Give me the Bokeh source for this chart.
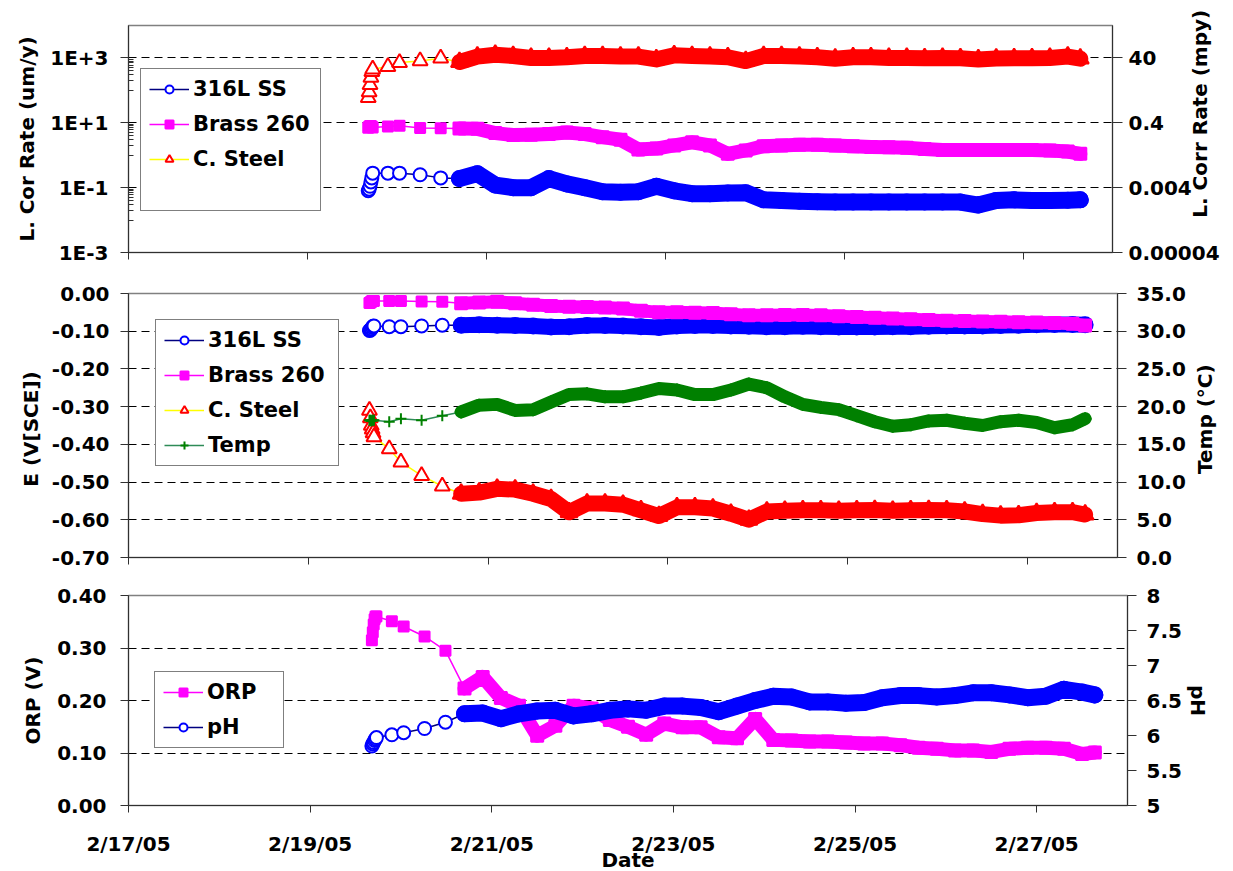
import math
import pandas as pd
from bokeh.plotting import figure
from bokeh.layouts import column
from bokeh.models import (Range1d, LinearAxis, LogAxis, LogScale, FixedTicker, Legend, LegendItem,
                          CustomJSTickFormatter, NumeralTickFormatter)
from bokeh.embed import file_html
from bokeh.resources import INLINE

# ---------------- data (days since 2/17/05 00:00) ----------------
START = pd.Timestamp("2005-02-17")
days = [2.68, 2.69, 2.70, 2.71, 2.72, 2.73,
        2.90, 3.03, 3.26, 3.49,
        3.70, 3.90, 4.10, 4.30, 4.50, 4.70, 4.90, 5.10, 5.30, 5.50, 5.70, 5.90,
        6.10, 6.30, 6.50, 6.70, 6.90, 7.10, 7.30, 7.50, 7.70, 7.90, 8.10, 8.30,
        8.50, 8.70, 8.90, 9.10, 9.30, 9.50, 9.70, 9.90, 10.10, 10.30, 10.50, 10.64]
N_DENSE = 10  # first index of the continuously logged part

# Linear corrosion rate (um/y)
cr_ss = [0.08, 0.09, 0.11, 0.15, 0.20, 0.28,
         0.28, 0.28, 0.25, 0.20,
         0.19, 0.27, 0.12, 0.10, 0.10, 0.19, 0.13, 0.10, 0.075, 0.072, 0.075, 0.11,
         0.08, 0.065, 0.065, 0.068, 0.07, 0.042, 0.040, 0.038, 0.037, 0.036, 0.036, 0.036,
         0.036, 0.036, 0.036, 0.036, 0.036, 0.029, 0.040, 0.042, 0.040, 0.040, 0.041, 0.042]
cr_brass = [7.0, 7.5, 8.0, 8.0, 7.5, 7.2,
            7.7, 8.1, 6.9, 6.8,
            6.7, 6.5, 4.8, 4.2, 4.3, 4.5, 5.0, 4.5, 3.6, 3.0, 1.5, 1.6,
            2.0, 2.5, 2.0, 1.1, 1.4, 1.9, 2.0, 2.1, 2.1, 2.0, 1.9, 1.8,
            1.75, 1.7, 1.55, 1.45, 1.45, 1.45, 1.45, 1.45, 1.45, 1.4, 1.3, 1.1]
cr_steel = [60, 90, 150, 250, 380, 450,
            540, 720, 810, 980,
            750, 1100, 1250, 1150, 1000, 1000, 1050, 1150, 1150, 1100, 1100, 900,
            1200, 1150, 1100, 1050, 800, 1150, 1150, 1100, 1050, 950, 1050, 1050,
            1000, 1000, 980, 1000, 980, 900, 960, 980, 980, 1000, 1100, 950]

# Corrosion potential E (V vs SCE) and temperature (C)
e_ss = [-0.098, -0.097, -0.094, -0.090, -0.087, -0.086,
        -0.088, -0.088, -0.086, -0.084,
        -0.084, -0.083, -0.084, -0.085, -0.086, -0.089, -0.088, -0.085, -0.085, -0.086, -0.088, -0.090,
        -0.086, -0.085, -0.085, -0.086, -0.087, -0.088, -0.088, -0.087, -0.088, -0.089, -0.089, -0.089,
        -0.088, -0.088, -0.087, -0.086, -0.086, -0.086, -0.085, -0.084, -0.083, -0.082, -0.082, -0.083]
e_brass = [-0.025, -0.024, -0.022, -0.020, -0.020, -0.020,
           -0.020, -0.020, -0.021, -0.022,
           -0.026, -0.024, -0.022, -0.026, -0.030, -0.033, -0.035, -0.036, -0.037, -0.040, -0.046, -0.050,
           -0.050, -0.051, -0.052, -0.055, -0.058, -0.058, -0.057, -0.057, -0.058, -0.060, -0.062, -0.064,
           -0.066, -0.068, -0.070, -0.072, -0.073, -0.074, -0.075, -0.076, -0.077, -0.078, -0.080, -0.085]
e_steel = [-0.31, -0.33, -0.35, -0.36, -0.37, -0.38,
           -0.412, -0.447, -0.483, -0.511,
           -0.531, -0.528, -0.518, -0.520, -0.531, -0.545, -0.580, -0.557, -0.557, -0.560, -0.575, -0.590,
           -0.567, -0.567, -0.570, -0.584, -0.600, -0.578, -0.576, -0.575, -0.575, -0.576, -0.575, -0.574,
           -0.576, -0.575, -0.574, -0.575, -0.578, -0.585, -0.589, -0.588, -0.582, -0.580, -0.580, -0.586]
temp = [18.2, 18.2, 18.1, 18.2, 18.2, 18.2,
        18.0, 18.4, 18.2, 18.8,
        19.3, 20.2, 20.3, 19.5, 19.6, 20.6, 21.6, 21.7, 21.3, 21.3, 21.8, 22.4,
        22.2, 21.6, 21.6, 22.2, 23.0, 22.5, 21.3, 20.3, 19.9, 19.6, 18.8, 18.0,
        17.4, 17.6, 18.1, 18.2, 17.8, 17.5, 18.0, 18.2, 17.9, 17.2, 17.6, 18.4]

# ORP (V) and pH
orp = [0.315, 0.33, 0.345, 0.355, 0.36, 0.36,
       0.351, 0.341, 0.322, 0.295,
       0.223, 0.245, 0.205, 0.19, 0.133, 0.152, 0.19, 0.185, 0.163, 0.15, 0.135, 0.156,
       0.149, 0.149, 0.13, 0.128, 0.165, 0.125, 0.124, 0.122, 0.122, 0.12, 0.118, 0.118,
       0.115, 0.11, 0.108, 0.105, 0.105, 0.102, 0.108, 0.11, 0.11, 0.108, 0.098, 0.101]
ph = [5.85, 5.88, 5.90, 5.93, 5.95, 5.97,
      6.01, 6.04, 6.10, 6.19,
      6.31, 6.32, 6.24, 6.31, 6.35, 6.36, 6.28, 6.31, 6.36, 6.38, 6.36, 6.42,
      6.42, 6.40, 6.34, 6.42, 6.50, 6.56, 6.55, 6.48, 6.48, 6.46, 6.47, 6.54,
      6.57, 6.57, 6.55, 6.57, 6.61, 6.61, 6.58, 6.54, 6.56, 6.66, 6.62, 6.58]

# axes
x_tick_dates = ["2005-02-17", "2005-02-19", "2005-02-21", "2005-02-23", "2005-02-25", "2005-02-27"]
x_limits = ["2005-02-17", "2005-02-28"]
cr_ticks = [1e-3, 1e-1, 1e1, 1e3]
cr_minor = [m * 10.0 ** e for e in (-2, 0, 2) for m in range(1, 10)]
mpy_labels = ["0.00004", "0.004", "0.4", "40"]
e_ticks = [-0.7, -0.6, -0.5, -0.4, -0.3, -0.2, -0.1, 0.0]
temp_ticks = [0, 5, 10, 15, 20, 25, 30, 35]
orp_ticks = [0.0, 0.1, 0.2, 0.3, 0.4]
ph_ticks = [5, 5.5, 6, 6.5, 7, 7.5, 8]

# ---------------- styling helpers ----------------
FONT = "DejaVu Sans"
x = [START + pd.Timedelta(days=d) for d in days]
x_tick_ms = [pd.Timestamp(d).value / 1e6 for d in x_tick_dates]
date_fmt = CustomJSTickFormatter(code="""
const d = new Date(tick);
return (d.getUTCMonth() + 1) + "/" + d.getUTCDate() + "/" + String(d.getUTCFullYear()).slice(2);
""")


def make_fig(fw, fh, bl, br, bt, bb, **kw):
    p = figure(frame_width=fw, frame_height=fh, min_border_left=bl, min_border_right=br,
               min_border_top=bt, min_border_bottom=bb, x_axis_type="datetime",
               x_range=Range1d(pd.Timestamp(x_limits[0]), pd.Timestamp(x_limits[1])),
               toolbar_location=None, output_backend="svg", **kw)
    p.outline_line_color = "#808080"
    p.outline_line_width = 1.5
    p.xgrid.visible = False
    p.ygrid.grid_line_color = "black"
    p.ygrid.grid_line_dash = "8 5"
    p.ygrid.grid_line_width = 1
    p.xaxis.ticker = FixedTicker(ticks=x_tick_ms)
    p.xaxis.formatter = date_fmt
    p.xaxis.major_tick_out = 7
    p.xaxis.major_tick_in = 0
    p.xaxis.minor_tick_out = 0
    p.xaxis.axis_line_color = "#303030"
    p.xaxis.major_tick_line_color = "#303030"
    p.xaxis.major_label_text_font = FONT
    p.xaxis.major_label_text_font_style = "bold"
    p.xaxis.major_label_text_font_size = "20px"
    p.xaxis.major_label_text_color = "black"
    return p


def hide_x_labels(p):
    p.xaxis.formatter = CustomJSTickFormatter(code="return '';")
    p.xaxis.major_label_text_font_size = "0px"
    p.xaxis.major_label_standoff = 0


def style_y(ax, tick_out, standoff, label, label_standoff):
    ax.major_tick_out = tick_out
    ax.major_tick_in = 0
    ax.minor_tick_out = 0
    ax.minor_tick_in = 0
    ax.axis_line_color = "#303030"
    ax.major_tick_line_color = "#303030"
    ax.major_label_standoff = standoff
    ax.major_label_text_font = FONT
    ax.major_label_text_font_style = "bold"
    ax.major_label_text_font_size = "20px"
    ax.major_label_text_color = "black"
    ax.axis_label = label
    ax.axis_label_standoff = label_standoff
    ax.axis_label_text_font = FONT
    ax.axis_label_text_font_style = "bold"
    ax.axis_label_text_font_size = "20px"
    ax.axis_label_text_color = "black"


def bottom_to_top(ax, label, pad):
    """Right-hand title reading upward; anchored at the axis start, lifted by padding."""
    try:
        ax.axis_label_align = "start"
        ax.axis_label_orientation = math.pi / 2
        ax.axis_label = "\u00a0" * pad + label
    except (AttributeError, ValueError):
        ax.axis_label = label


def series(p, y, line_color, mcolor, marker, size, band_w, fill, rng="default"):
    r_line = p.line(x, y, line_color=line_color, line_width=1.5, y_range_name=rng)
    p.line(x[N_DENSE:], y[N_DENSE:], line_color=mcolor, line_width=band_w, line_join="round",
           line_cap="round", y_range_name=rng)
    p.scatter(x[N_DENSE:], y[N_DENSE:], marker=marker, size=size + 2, line_color=mcolor,
              fill_color=mcolor, line_width=2, y_range_name=rng)
    r_m = p.scatter(x[:N_DENSE], y[:N_DENSE], marker=marker, size=size, line_color=mcolor,
                    fill_color=fill, line_width=2, y_range_name=rng)
    return [r_line, r_m]


def legend(p, items, loc, label_width):
    lg = Legend(items=items, location=loc, label_text_font=FONT, label_text_font_style="bold",
                label_text_font_size="21px", label_text_color="black", glyph_width=40,
                glyph_height=20, label_height=20, label_width=label_width, spacing=11,
                padding=8, margin=0, label_standoff=4, border_line_color="black",
                border_line_width=1, background_fill_alpha=1)
    p.add_layout(lg, "center")


# ---------------- panel 1: corrosion rate ----------------
p1 = make_fig(984, 227, 128, 113, 25, 20, y_axis_type="log", y_range=Range1d(1e-3, 1e4))
hide_x_labels(p1)
p1.yaxis.ticker = FixedTicker(ticks=cr_ticks, minor_ticks=cr_minor)
p1.yaxis.formatter = CustomJSTickFormatter(code="""
const e = Math.round(Math.log10(tick));
return "1E" + (e >= 0 ? "+" : "-") + Math.abs(e);
""")
style_y(p1.yaxis[0], 8, 12, "L. Cor Rate (um/y)", 8)
p1.yaxis.minor_tick_in = 5
p1.yaxis.minor_tick_line_color = "#303030"
p1.extra_y_ranges = {"mpy": Range1d(1e-3, 1e4)}
p1.extra_y_scales = {"mpy": LogScale()}
ax_mpy = LogAxis(y_range_name="mpy", ticker=FixedTicker(ticks=cr_ticks),
                 formatter=CustomJSTickFormatter(args=dict(tvals=cr_ticks, labs=mpy_labels), code="""
const i = tvals.findIndex(t => Math.abs(Math.log10(t) - Math.log10(tick)) < 1e-6);
return i >= 0 ? labs[i] : "";
"""))
style_y(ax_mpy, 10, 6, "L. Corr Rate (mpy)", -23)
bottom_to_top(ax_mpy, "L. Corr Rate (mpy)", 5)
p1.add_layout(ax_mpy, "right")

g_ss = series(p1, cr_ss, "#000080", "#0000FF", "circle", 13, 17, "white")
g_br = series(p1, cr_brass, "#FF00FF", "#FF00FF", "square", 10, 14, "#FF00FF")
g_st = series(p1, cr_steel, "#FFFF00", "#FF0000", "triangle", 15, 16, "white")
blank = p1.line([], [], line_alpha=0)
legend(p1, [LegendItem(label="316L SS", renderers=g_ss), LegendItem(label="Brass 260", renderers=g_br),
            LegendItem(label="C. Steel", renderers=g_st), LegendItem(label=" ", renderers=[blank])],
       (12, 41), 119)

# ---------------- panel 2: potential / temperature ----------------
p2 = make_fig(989, 264, 125, 111, 21, 18, y_range=Range1d(-0.7, 0.0))
hide_x_labels(p2)
p2.yaxis.ticker = FixedTicker(ticks=e_ticks)
p2.yaxis.formatter = NumeralTickFormatter(format="0.00")
style_y(p2.yaxis[0], 8, 11, "E  (V[SCE])", 6)
p2.extra_y_ranges = {"temp": Range1d(0, 35)}
ax_t = LinearAxis(y_range_name="temp", ticker=FixedTicker(ticks=temp_ticks),
                  formatter=NumeralTickFormatter(format="0.0"))
style_y(ax_t, 9, 10, "Temp (°C)", 16)
bottom_to_top(ax_t, "Temp (°C)", 12)
p2.add_layout(ax_t, "right")

h_ss = series(p2, e_ss, "#000080", "#0000FF", "circle", 13, 16, "white")
h_br = series(p2, e_brass, "#FF00FF", "#FF00FF", "square", 10, 13, "#FF00FF")
h_st = series(p2, e_steel, "#FFFF00", "#FF0000", "triangle", 15, 16, "white")
h_t = series(p2, temp, "#2E8B57", "#008000", "cross", 11, 13, "#008000", rng="temp")
legend(p2, [LegendItem(label="316L SS", renderers=h_ss), LegendItem(label="Brass 260", renderers=h_br),
            LegendItem(label="C. Steel", renderers=h_st), LegendItem(label="Temp", renderers=h_t)],
       (27, 91), 122)

# ---------------- panel 3: ORP / pH ----------------
p3 = make_fig(999, 210, 122, 104, 20, 64, y_range=Range1d(0.0, 0.4))
p3.xaxis.major_label_standoff = 19
p3.xaxis.axis_label = "Date"
p3.xaxis.axis_label_standoff = -11
p3.xaxis.axis_label_text_font = FONT
p3.xaxis.axis_label_text_font_style = "bold"
p3.xaxis.axis_label_text_font_size = "20px"
p3.xaxis.axis_label_text_color = "black"
p3.yaxis.ticker = FixedTicker(ticks=orp_ticks)
p3.yaxis.formatter = NumeralTickFormatter(format="0.00")
style_y(p3.yaxis[0], 8, 14, "ORP (V)", 9)
p3.extra_y_ranges = {"ph": Range1d(5, 8)}
ax_ph = LinearAxis(y_range_name="ph", ticker=FixedTicker(ticks=ph_ticks),
                   formatter=NumeralTickFormatter(format="0.[0]"))
style_y(ax_ph, 9, 10, "pH", 1)
p3.add_layout(ax_ph, "right")

k_orp = series(p3, orp, "#FF00FF", "#FF00FF", "square", 10, 14, "#FF00FF")
k_ph = series(p3, ph, "#000080", "#0000FF", "circle", 13, 17, "white", rng="ph")
legend(p3, [LegendItem(label="ORP", renderers=k_orp), LegendItem(label="pH", renderers=k_ph)],
       (26, 57), 68)

layout = column(p1, p2, p3, spacing=0)
open("out.html", "w").write(file_html(layout, INLINE))
